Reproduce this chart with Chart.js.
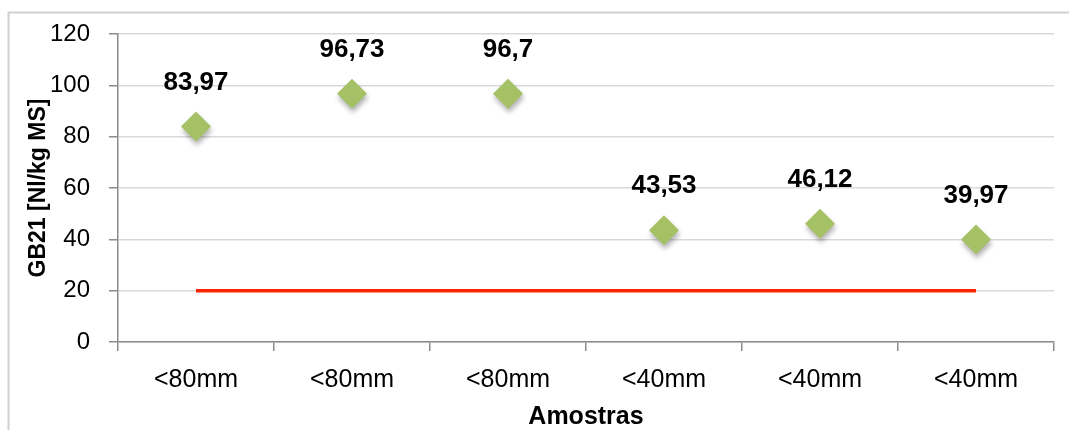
<!DOCTYPE html>
<html lang="pt">
<head>
<meta charset="UTF-8">
<title>GB21 por amostra</title>
<script src="https://cdn.jsdelivr.net/npm/chart.js"></script>
<style>
    body, html { margin: 0; padding: 0; background: #fff; }
    #wrap { width: 1069px; height: 430px; }
</style>
</head>
<body>
<div id="wrap"><canvas id="gbChart" width="1069" height="430"></canvas></div>
<script>
const amostras = ['<80mm', '<80mm', '<80mm', '<40mm', '<40mm', '<40mm'];
const gb21 = [83.97, 96.73, 96.7, 43.53, 46.12, 39.97];
const limite = [20, 20, 20, 20, 20, 20];
const yTicks = [0, 20, 40, 60, 80, 100, 120];

const fonte = '"Liberation Sans", Arial, sans-serif';

// moldura cinza à volta do gráfico (só topo e lado esquerdo ficam visíveis)
const moldura = {
    id: 'moldura',
    beforeDraw(chart) {
        const ctx = chart.ctx;
        ctx.save();
        ctx.strokeStyle = '#d0d0d0';
        ctx.lineWidth = 2;
        ctx.beginPath();
        ctx.moveTo(8.5, chart.height);
        ctx.lineTo(8.5, 12.5);
        ctx.lineTo(chart.width, 12.5);
        ctx.stroke();
        ctx.restore();
    }
};

// sombra suave por baixo dos losangos
const sombra = {
    id: 'sombra',
    beforeDatasetDraw(chart, args) {
        if (args.index !== 1) return;
        const ctx = chart.ctx;
        ctx.save();
        ctx.shadowColor = 'rgba(0,0,0,0.3)';
        ctx.shadowBlur = 5;
        ctx.shadowOffsetX = 1;
        ctx.shadowOffsetY = 4;
    },
    afterDatasetDraw(chart, args) {
        if (args.index !== 1) return;
        chart.ctx.restore();
    }
};

// valores por cima de cada ponto, com vírgula decimal
const rotulos = {
    id: 'rotulos',
    afterDatasetsDraw(chart) {
        const ctx = chart.ctx;
        const meta = chart.getDatasetMeta(1);
        ctx.save();
        ctx.font = 'bold 26px ' + fonte;
        ctx.fillStyle = '#000';
        ctx.textAlign = 'center';
        ctx.textBaseline = 'middle';
        meta.data.forEach((pt, i) => {
            const txt = String(gb21[i]).replace('.', ',');
            ctx.fillText(txt, pt.x, pt.y - 44);
        });
        ctx.restore();
    }
};

new Chart(document.getElementById('gbChart'), {
    type: 'line',
    data: {
        labels: amostras,
        datasets: [
            {
                label: 'Limite',
                data: limite,
                borderColor: '#ff2400',
                borderWidth: 3.5,
                pointRadius: 0,
                fill: false
            },
            {
                label: 'GB21',
                data: gb21,
                showLine: false,
                pointStyle: 'rectRot',
                pointRadius: 15,
                pointBackgroundColor: '#a5c165',
                pointBorderWidth: 0
            }
        ]
    },
    options: {
        responsive: false,
        animation: false,
        layout: { padding: { top: 34, right: 14, bottom: 0, left: 0 } },
        plugins: {
            legend: { display: false },
            tooltip: { enabled: false }
        },
        scales: {
            x: {
                offset: true,
                grid: {
                    offset: true,
                    drawOnChartArea: false,
                    color: '#8c8c8c',
                    lineWidth: 1.5,
                    tickLength: 9
                },
                border: { color: '#8c8c8c', width: 1.5 },
                ticks: {
                    color: '#000',
                    font: { family: fonte, size: 25 },
                    padding: 14,
                    maxRotation: 0,
                    autoSkip: false
                },
                title: {
                    display: true,
                    text: 'Amostras',
                    color: '#000',
                    font: { family: fonte, size: 25, weight: 'bold' },
                    padding: { top: 0, bottom: -2 }
                },
                afterFit(scale) { scale.height = 88; }
            },
            y: {
                min: 0,
                max: 120,
                afterBuildTicks(scale) {
                    scale.ticks = yTicks.map(v => ({ value: v }));
                },
                grid: {
                    color: '#d9d9d9',
                    lineWidth: 1.5,
                    tickColor: '#8c8c8c',
                    tickLength: 9
                },
                border: { color: '#8c8c8c', width: 1.5 },
                ticks: {
                    color: '#000',
                    font: { family: fonte, size: 24 },
                    padding: 19
                },
                title: {
                    display: true,
                    text: 'GB21 [Nl/kg MS]',
                    color: '#000',
                    font: { family: fonte, size: 23, weight: 'bold' },
                    padding: { top: 25, bottom: 0 }
                },
                afterFit(scale) { scale.width = 118; }
            }
        }
    },
    plugins: [moldura, sombra, rotulos]
});
</script>
</body>
</html>
